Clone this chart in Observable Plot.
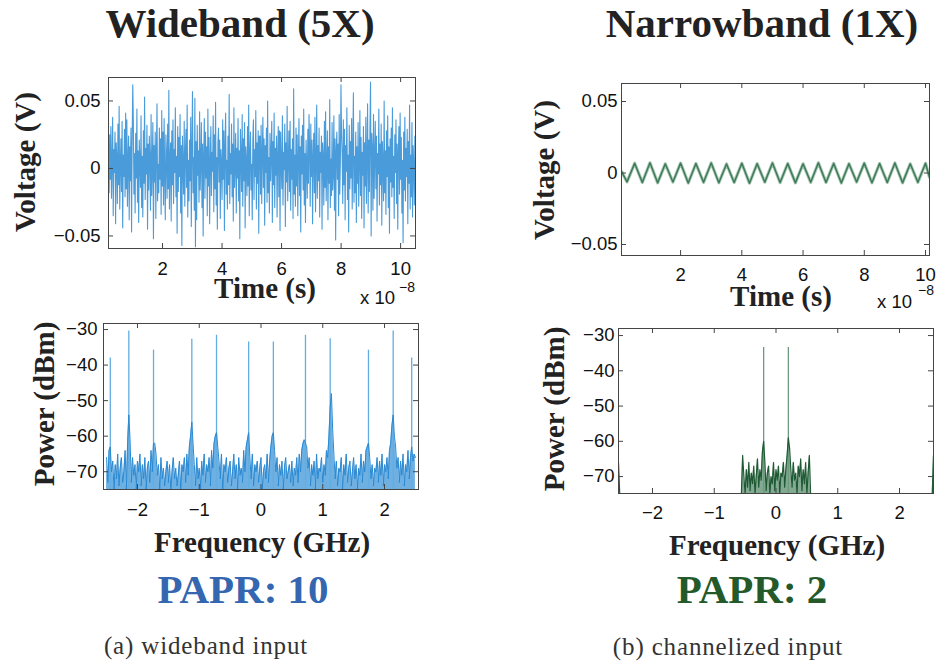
<!DOCTYPE html>
<html><head><meta charset="utf-8">
<script src="https://cdn.jsdelivr.net/npm/d3@7"></script>
<script src="https://cdn.jsdelivr.net/npm/@observablehq/plot@0.6"></script>
<style>
html,body{margin:0;padding:0;background:#fff;}
#root{position:relative;width:938px;height:663px;overflow:hidden;background:#fff;}
#overlay{position:absolute;left:0;top:0;pointer-events:none;}
.ttl{font-family:'Liberation Serif','Times New Roman',serif;font-weight:bold;font-size:41px;fill:#222;}
.axt{font-family:'Liberation Serif','Times New Roman',serif;font-weight:bold;font-size:29px;fill:#222;}
.exp{font-family:'Liberation Sans',Arial,sans-serif;fill:#111;}
.cap{font-family:'Liberation Serif','Times New Roman',serif;font-size:25px;fill:#333;letter-spacing:0.85px;}
</style></head>
<body><div id="root"></div>
<script>
// ---------- DATA ----------
// Wideband time-domain voltage samples (mV), time axis in units of 1e-8 s
const wbTimeStart = 0.185, wbTimeEnd = 10.5;
const wbVolt_mV = [
12,-18,25,-8,31,-22,5,38,-35,14,-3,27,-41,19,8,-26,33,-12,46,-30,
2,22,-17,35,-44,10,-6,29,-21,41,-15,36,-28,7,24,-38,16,-9,30,-47,
20,62,36,-19,11,-33,26,-7,44,-25,13,-40,21,4,-14,39,-29,9,-36,28,
-11,53,-23,15,-4,32,-45,18,-16,24,6,-31,40,-20,1,34,-52,17,-10,27,
-37,12,48,-24,3,-18,30,-8,22,-34,43,-13,27,-27,37,-5,-38,25,10,-22,
33,-15,58,-30,7,19,-39,28,-12,36,-26,14,-3,45,-21,9,-48,31,-17,23,
-6,40,-33,17,-57,24,2,-19,35,-28,11,29,-14,47,-36,6,-24,21,-9,38,
-43,15,57,-18,8,-31,52,-58,20,-38,32,-5,13,-25,42,-16,4,34,-29,18,
-50,10,37,-22,27,-7,16,-35,44,-13,23,-41,5,31,-20,12,-2,39,-32,25,
-15,49,-27,8,-45,19,30,-10,21,-37,14,3,-23,36,-8,28,-46,17,41,-19,
6,-30,24,-12,55,-26,11,-4,33,-21,18,-39,45,-14,2,26,-33,15,-7,37,
-24,13,-52,29,9,-17,40,-28,22,-9,34,-44,16,5,-20,31,-13,47,-35,10,
27,-16,3,-38,21,36,-23,14,-6,43,-30,19,-11,28,-48,24,24,-19,32,-26,
11,38,-14,22,-42,17,-3,30,-25,50,-18,8,-33,26,-9,13,35,-40,20,-12,
41,-29,15,-5,24,-36,9,31,-21,28,-46,27,4,-15,39,-27,12,-1,33,-43,
19,-10,46,-24,7,28,-17,35,-31,14,-8,22,-37,59,-19,10,-28,30,-13,25,
-35,6,37,-20,16,-47,24,-4,32,-16,44,-27,11,-40,21,3,-22,29,-11,40,
14,-28,33,-6,21,-41,9,26,-18,38,-32,5,47,-22,17,-9,30,-36,12,-3,
24,-45,19,8,-27,35,-14,42,-24,3,28,-38,16,-11,51,-29,7,-20,34,-16,
-4,39,-31,22,-53,13,27,-8,18,-35,40,-19,6,62,25,11,-26,36,-12,29,
-38,17,-2,45,-23,10,-47,32,-15,20,-7,37,-30,14,56,-25,9,-18,27,-40,
16,-11,34,-28,4,43,-20,23,-37,12,-5,31,-44,19,-13,38,-26,8,48,-33,
21,-17,29,64,-50,26,15,-31,40,-22,7,35,-15,24,-39,11,-4,44,-27,18,
-12,33,-42,20,3,-24,50,-18,13,-34,28,-6,39,-29,16,-48,22,-10,30,-21,
45,-14,9,-37,25,-3,36,-26,18,-45,12,31,-19,41,-8,23,-33,6,-55,27,
-16,38,-24,15,-6,29,-41,20,-11,47,-30,10,-21,34,-36,17,2,-27,24,-9
];

// Wideband spectrum: bins from -2.5 GHz, step 0.02 GHz (dBm)
const wbFreqStart = -2.5, wbFreqStep = 0.02;
const wbNoise_dBm = [
-66,-73,-64,-63,-70,-67,-75,-68,-72,-65,-74,-69,-66,-73,-70,-64,-75,-62,-54,-61,-73,-66,-71,-68,-75,
-67,-70,-65,-74,-68,-72,-66,-75,-69,-67,-73,-64,-70,-62,-62,-65,-71,-68,-75,-66,-72,-69,-74,-70,-67,
-73,-68,-75,-70,-66,-72,-69,-74,-71,-67,-75,-68,-70,-66,-73,-65,-71,-63,-60,-56,-62,-68,-74,-66,-72,
-69,-75,-67,-71,-65,-73,-68,-70,-66,-74,-64,-69,-62,-60,-59,-63,-67,-72,-65,-75,-68,-70,-66,-73,-69,
-67,-74,-70,-65,-72,-68,-75,-66,-71,-69,-73,-64,-70,-63,-61,-59,-66,-72,-65,-74,-68,-70,-67,-73,-69,
-66,-75,-70,-68,-72,-65,-73,-67,-63,-60,-59,-64,-70,-66,-74,-68,-71,-67,-75,-69,-66,-72,-70,-68,-73,
-67,-74,-69,-71,-66,-73,-65,-70,-64,-62,-61,-62,-63,-69,-66,-74,-68,-71,-67,-75,-65,-72,-69,-70,-66,
-73,-68,-71,-64,-66,-60,-52,-48,-58,-65,-72,-67,-74,-69,-70,-66,-75,-68,-71,-65,-73,-69,-67,-74,-70,
-66,-72,-68,-75,-69,-71,-65,-73,-67,-70,-64,-63,-62,-66,-72,-68,-74,-69,-70,-66,-73,-67,-71,-65,-74,
-68,-70,-66,-72,-64,-62,-57,-54,-60,-63,-69,-66,-73,-67,-71,-65,-74,-68,-70,-64,-72,-66,-63,-67,-65,
-66
];
const wbPeakFreq = [-2.44,-2.14,-1.74,-1.12,-0.72,-0.2,0.2,0.72,1.12,1.74,2.14,2.44];
const wbPeakPower = [-38,-30.4,-35.8,-32.7,-31.6,-33.5,-33.5,-31.6,-32.6,-35.8,-30.4,-38];

// Narrowband time-domain: extremes of the 200 MHz tone (mV)
const nbTimeFirst = 0.07, nbFirstValue = 1.0;
const nbTimeLast = 10.13, nbLastValue = -3.0;
const nbVertexStart = 0.25, nbVertexStep = 0.25;
const nbVolt_mV = [
-6.2,6.8,-6.6,7.1,-6.9,6.4,-6.3,6.9,-7.0,6.6,-6.5,7.0,-6.8,6.3,-6.6,6.8,-7.1,6.5,-6.4,7.0,
-6.7,6.6,-6.9,6.4,-6.5,7.1,-6.6,6.7,-7.0,6.5,-6.3,6.9,-6.8,6.6,-6.6,7.0,-6.9,6.4,-6.5,6.8
];

// Narrowband spectrum: in-band bins from -0.54 GHz, step 0.02 GHz (dBm)
const nbBandStart = -0.54, nbBandStep = 0.02;
const nbBand_dBm = [
-64,-70,-75,-68,-73,-66,-74,-69,-72,-67,-75,-70,-65,-73,-68,-71,-63,
-60,
-66,-74,-69,-67,-75,-70,-72,-66,-74,-68,-71,-67,-75,-69,-70,-66,-73,-68,-64,
-59,
-62,-68,-73,-66,-71,-69,-75,-67,-70,-65,-74,-68,-72,-66,-75,-69,-64
];
const nbLeftFreq = [-2.55,-2.53,-0.56], nbLeftPower = [-66,-74.8,-74.8];
const nbRightFreq = [0.56,2.53,2.55], nbRightPower = [-74.8,-74.8,-64];
const nbPeakFreq = [-0.2,0.2];
const nbPeakPower = [-33.4,-33.4];

// Ticks
const timeTicks = [2,4,6,8,10];
const voltTicks = [-0.05,0,0.05];
const freqTicks = [-2,-1,0,1,2];
const powerTicks = [-70,-60,-50,-40,-30];

// ---------- TABLES ----------
const wbTime = wbVolt_mV.map((v,i)=>({t: wbTimeStart + i*(wbTimeEnd-wbTimeStart)/(wbVolt_mV.length-1), v: v/1000}));
const wbSpec = wbNoise_dBm.map((p,i)=>({f: wbFreqStart + i*wbFreqStep, p}));
const wbPeaks = wbPeakFreq.map((f,i)=>({f, p: wbPeakPower[i]}));
const nbTime = [{t: nbTimeFirst, v: nbFirstValue/1000}]
  .concat(nbVolt_mV.map((v,i)=>({t: nbVertexStart + i*nbVertexStep, v: v/1000})))
  .concat([{t: nbTimeLast, v: nbLastValue/1000}]);
const nbSpec = nbLeftFreq.map((f,i)=>({f, p: nbLeftPower[i]}))
  .concat(nbBand_dBm.map((p,i)=>({f: nbBandStart + i*nbBandStep, p})))
  .concat(nbRightFreq.map((f,i)=>({f, p: nbRightPower[i]})));
const nbPeaks = nbPeakFreq.map((f,i)=>({f, p: nbPeakPower[i]}));

// ---------- FORMATS ----------
const fmtSigned = d => d === 0 ? "0" : (d < 0 ? "\u2212" : "") + Math.abs(d);

// ---------- PANELS ----------
const root = document.getElementById("root");
function panel(cfg){
  const ml = 70, mr = 14, mt = 8, mb = 40;
  const fw = cfg.fw, fh = cfg.fh, ax = "#454545";
  const svg = Plot.plot({
    width: fw+ml+mr, height: fh+mt+mb,
    marginLeft: ml, marginRight: mr, marginTop: mt, marginBottom: mb,
    x: {domain: cfg.xDomain}, y: {domain: cfg.yDomain},
    style: {background: "transparent", fontFamily: "'Liberation Sans', Arial, sans-serif", fontSize: "18px", color: "#111", overflow: "visible"},
    marks: [
      ...cfg.marks,
      Plot.frame({stroke: ax, strokeWidth: 1}),
      Plot.tickX(cfg.xTicks, {x: d=>d, insetTop: fh-5, stroke: ax}),
      Plot.tickX(cfg.xTicks, {x: d=>d, insetBottom: fh-5, stroke: ax}),
      Plot.tickY(cfg.yTicks, {y: d=>d, insetRight: fw-5, stroke: ax}),
      Plot.tickY(cfg.yTicks, {y: d=>d, insetLeft: fw-5, stroke: ax}),
      Plot.axisX(cfg.xTicks, {tickSize: 0, tickPadding: cfg.xPad, tickFormat: cfg.fmtX, label: null, fontSize: 18.5}),
      Plot.axisY(cfg.yTicks, {tickSize: 0, tickPadding: cfg.yPad, tickFormat: cfg.fmtY, label: null, fontSize: 18.5})
    ]
  });
  svg.style.position = "absolute";
  svg.style.left = (cfg.left - ml) + "px";
  svg.style.top = (cfg.top - mt) + "px";
  root.appendChild(svg);
}

const blue = "#2a89d2", blueFill = "#3f95d8", blueLight = "#62ade2";
const green = "#1f5a35", greenLight = "#4f8464";

panel({
  left: 108, top: 77, fw: 307, fh: 171,
  xDomain: [0.185, 10.5], yDomain: [-0.0593, 0.0674],
  xTicks: timeTicks, yTicks: voltTicks, xPad: 13, yPad: 8,
  fmtX: d => String(d), fmtY: fmtSigned,
  marks: [
    Plot.line(wbTime, {x: "t", y: "v", stroke: blue, strokeWidth: 1.1, strokeOpacity: 0.85, clip: true})
  ]
});

panel({
  left: 103, top: 323, fw: 315, fh: 166,
  xDomain: [-2.55, 2.55], yDomain: [-75, -28.3],
  xTicks: freqTicks, yTicks: powerTicks, xPad: 13, yPad: 6,
  fmtX: fmtSigned, fmtY: fmtSigned,
  marks: [
    Plot.areaY(wbSpec, {x: "f", y1: -75, y2: "p", fill: blueFill, fillOpacity: 0.75, clip: true}),
    Plot.ruleX(wbPeaks, {x: "f", y1: -75, y2: "p", stroke: blueLight, strokeWidth: 1.3, clip: true}),
    Plot.line(wbSpec, {x: "f", y: "p", stroke: blue, strokeWidth: 1, clip: true})
  ]
});

panel({
  left: 621, top: 83, fw: 308, fh: 172,
  xDomain: [0.07, 10.13], yDomain: [-0.0577, 0.0626],
  xTicks: timeTicks, yTicks: voltTicks, xPad: 12, yPad: 4,
  fmtX: d => String(d), fmtY: fmtSigned,
  marks: [
    Plot.line(nbTime, {x: "t", y: "v", stroke: "#a3c6b0", strokeWidth: 3.2, clip: true}),
    Plot.line(nbTime, {x: "t", y: "v", stroke: "#3d7858", strokeWidth: 1.4, clip: true})
  ]
});

panel({
  left: 618, top: 328, fw: 315, fh: 165,
  xDomain: [-2.55, 2.55], yDomain: [-74.8, -28],
  xTicks: freqTicks, yTicks: powerTicks, xPad: 12, yPad: 4,
  fmtX: fmtSigned, fmtY: fmtSigned,
  marks: [
    Plot.areaY(nbSpec, {x: "f", y1: -74.8, y2: "p", fill: greenLight, fillOpacity: 0.7, clip: true}),
    Plot.ruleX(nbPeaks, {x: "f", y1: -74.8, y2: "p", stroke: "#6f9a80", strokeWidth: 1.3, clip: true}),
    Plot.line(nbSpec, {x: "f", y: "p", stroke: green, strokeWidth: 1.2, clip: true})
  ]
});

// ---------- TEXT OVERLAY ----------
const overlay = `
<svg id="overlay" width="938" height="663" xmlns="http://www.w3.org/2000/svg">
  <text class="ttl" x="240" y="37" text-anchor="middle">Wideband (5X)</text>
  <text class="ttl" x="762" y="37" text-anchor="middle">Narrowband (1X)</text>
  <text class="axt" transform="translate(35,162) rotate(-90)" text-anchor="middle">Voltage (V)</text>
  <text class="axt" transform="translate(554,170) rotate(-90)" text-anchor="middle">Voltage (V)</text>
  <text class="axt" transform="translate(54,404) rotate(-90)" text-anchor="middle">Power (dBm)</text>
  <text class="axt" transform="translate(564,409) rotate(-90)" text-anchor="middle">Power (dBm)</text>
  <text class="axt" x="265" y="298" text-anchor="middle">Time (s)</text>
  <text class="axt" x="781" y="306" text-anchor="middle">Time (s)</text>
  <text class="axt" x="262" y="552" text-anchor="middle">Frequency (GHz)</text>
  <text class="axt" x="777" y="555" text-anchor="middle">Frequency (GHz)</text>
  <text class="exp" x="360" y="304" font-size="18.5">x 10</text>
  <text class="exp" x="399" y="292" font-size="14">\u22128</text>
  <text class="exp" x="877" y="308" font-size="18.5">x 10</text>
  <text class="exp" x="918" y="295" font-size="14">\u22128</text>
  <text class="ttl" x="243" y="603" text-anchor="middle" style="fill:#3566b0">PAPR: 10</text>
  <text class="ttl" x="752" y="603" text-anchor="middle" style="fill:#245a2a">PAPR: 2</text>
  <text class="cap" x="206" y="654" text-anchor="middle">(a) wideband input</text>
  <text class="cap" x="728" y="655" text-anchor="middle">(b) channelized input</text>
</svg>`;
root.insertAdjacentHTML("beforeend", overlay);
</script>
</body></html>
